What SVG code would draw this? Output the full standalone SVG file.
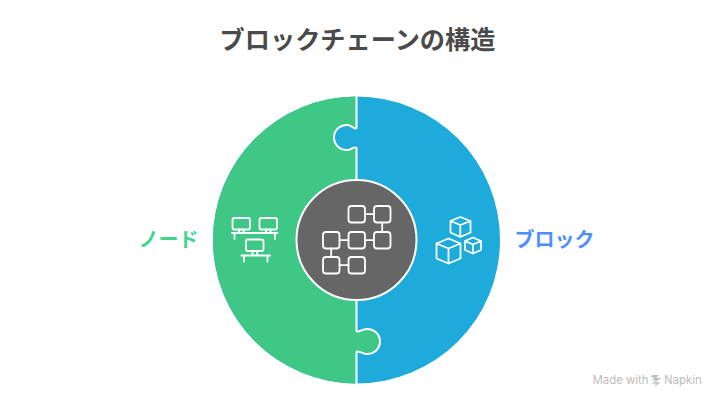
<svg xmlns="http://www.w3.org/2000/svg" width="726" height="409" viewBox="0 0 726 409">
<style>
.ic{fill:none;stroke:#fff;stroke-width:1.8;stroke-linecap:round;stroke-linejoin:round}
.t{font-family:"Noto Sans CJK JP","Noto Sans",sans-serif;font-weight:700}
.wm{font-family:"Inter","Roboto",sans-serif;font-size:11.4px;fill:#bdbdbd}
</style>
<rect width="726" height="409" fill="#fff"/>
<text class="t" x="357.500" y="49" font-size="25.200" fill="#4a4a4a" text-anchor="middle">ブロックチェーンの構造</text>
<g id="node-block">
<circle cx="356.500" cy="240" r="143.500" fill="#1eabdc"/>
<text class="t" x="554.500" y="246.500" font-size="20" fill="#4d8ffb" text-anchor="middle">ブロック</text>
<g class="ic">
<path d="M460.300 217 L470.500 221 V232.500 L460.300 237 L450.500 232.500 V221 Z M450.500 221 L460.300 225 L470.500 221 M460.300 225 V237"/>
<path d="M448.500 238.500 L460.500 243.500 V258.500 L448.500 263.500 L436.500 258.500 V243.500 Z M436.500 243.500 L448.500 248.500 L460.500 243.500 M448.500 248.500 V263.500"/>
<path d="M473 237.500 L481 241 V250 L473 253.500 L465 250 V241 Z M465 241 L473 244.500 L481 241 M473 244.500 V253.500"/>
</g>
</g>
<g id="node-node">
<path d="M356.500 96.500A143.500 143.500 0 0 0 356.500 383.500V352C358 350 360 352.700 365 353.750A12.500 12.500 0 1 0 365 329.250C360 330.300 358 333 356.500 331V148C355 146 352 148.700 349 149.750A12.500 12.500 0 1 1 349 125.250C352 126.300 355 130 356.500 128Z" fill="#3fc785"/>
<text class="t" x="168.500" y="246.500" font-size="20" fill="#3dd68c" text-anchor="middle">ノード</text>
<g class="ic">
<rect x="232.500" y="218" width="17.500" height="11.500" rx="2"/>
<rect x="259.500" y="218" width="17.500" height="11.500" rx="2"/>
<rect x="246" y="239.500" width="17.500" height="11.500" rx="2"/>
<path d="M232 233H277.500M234.500 233V239M275 233V239M239 229.500V233M243.500 229.500V233M266 229.500V233M270.500 229.500V233"/>
<path d="M241.500 255.500H270M244 255.500V261.500M267.500 255.500V261.500M252.500 251V255.500M257 251V255.500"/>
</g>
</g>
<g id="connectors">
<path d="M356.500 96V128C355 130 352 126.300 349 125.250A12.500 12.500 0 1 0 349 149.750C352 148.700 355 146 356.500 148V331C358 333 360 330.300 365 329.250A12.500 12.500 0 1 1 365 353.750C360 352.700 358 350 356.500 352V384" fill="none" stroke="#fff" stroke-width="2"/>
</g>
<g id="node-center">
<circle cx="356.500" cy="240" r="60" fill="#666" stroke="#fff" stroke-width="2"/>
<g class="ic">
<rect x="348.500" y="206" width="16.500" height="16.500" rx="3"/>
<rect x="374" y="206" width="16.500" height="16.500" rx="3"/>
<rect x="323" y="232" width="16.500" height="16.500" rx="3"/>
<rect x="348.500" y="232" width="16.500" height="16.500" rx="3"/>
<rect x="374" y="232" width="16.500" height="16.500" rx="3"/>
<rect x="323" y="257" width="16.500" height="16.500" rx="3"/>
<rect x="348.500" y="257" width="16.500" height="16.500" rx="3"/>
<path d="M365 214.200H374M382.200 222.500V232M339.500 240.200H348.500M365 240.200H374M331.200 248.500V257M339.500 265.200H348.500"/>
</g>
</g>
<g id="watermark">
<text class="wm" x="592.500" y="384">Made with</text>
<path d="M651.500 375H659L656 378H661.500L655 382L660.500 382.500L654.500 386.500L656 383.500L651.500 383.500L656.500 380.500H652L655 377.500H651.500Z" fill="#bdbdbd"/>
<text class="wm" x="664" y="384">Napkin</text>
</g>
</svg>
